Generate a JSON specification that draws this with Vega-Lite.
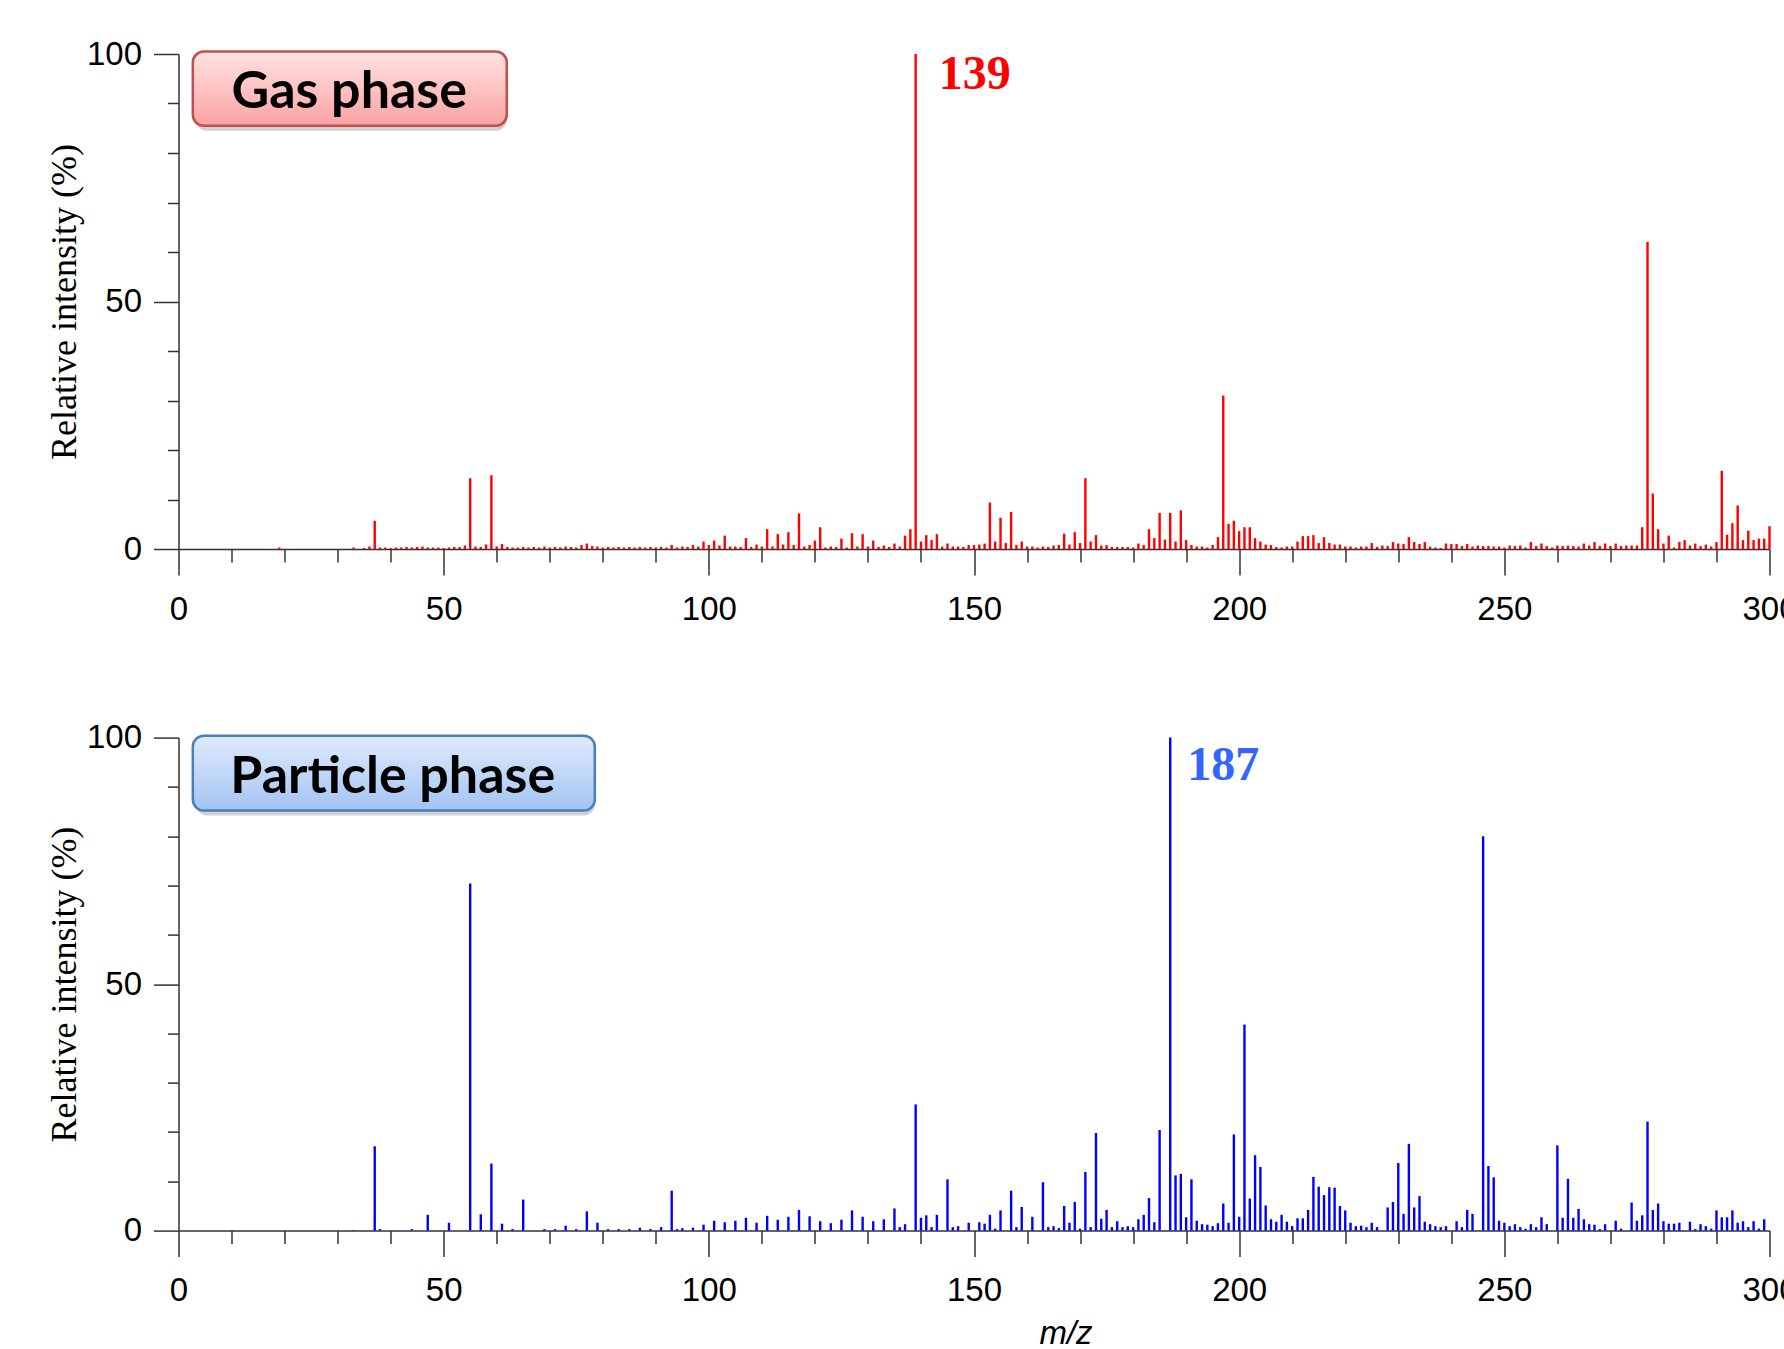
{
  "$schema": "https://vega.github.io/schema/vega-lite/v6.json",
  "background": "white",
  "padding": {"left": 45.5, "top": 38, "right": -10.5, "bottom": 0},
  "spacing": 188.6,
  "bounds": "flush",
  "config": {
    "view": {"stroke": null},
    "axis": {
      "grid": false,
      "domainColor": "#333333",
      "domainWidth": 1.5,
      "tickColor": "#333333",
      "tickWidth": 1.5,
      "labelFont": "Liberation Sans",
      "labelFontSize": 33,
      "labelColor": "#000000",
      "labelOverlap": false,
      "labelFlush": false,
      "titleFont": "Liberation Serif",
      "titleFontWeight": "normal",
      "titleFontSize": 36,
      "titleColor": "#000000"
    }
  },
  "datasets": {
    "gas": [
      {"mz":19,"i":0.3},{"mz":33,"i":0.3},{"mz":35,"i":0.2},{"mz":36,"i":0.5},{"mz":37,"i":5.7},{"mz":38,"i":0.3},{"mz":39,"i":0.3},{"mz":40,"i":0.2},
      {"mz":41,"i":0.3},{"mz":42,"i":0.3},{"mz":43,"i":0.4},{"mz":44,"i":0.3},{"mz":45,"i":0.4},{"mz":46,"i":0.5},{"mz":47,"i":0.3},{"mz":48,"i":0.3},
      {"mz":49,"i":0.3},{"mz":50,"i":0.2},{"mz":51,"i":0.3},{"mz":52,"i":0.4},{"mz":53,"i":0.4},{"mz":54,"i":0.7},{"mz":55,"i":14.3},{"mz":56,"i":0.5},
      {"mz":57,"i":0.4},{"mz":58,"i":0.9},{"mz":59,"i":14.9},{"mz":60,"i":0.5},{"mz":61,"i":1.0},{"mz":62,"i":0.4},{"mz":63,"i":0.3},{"mz":64,"i":0.3},
      {"mz":65,"i":0.4},{"mz":66,"i":0.3},{"mz":67,"i":0.4},{"mz":68,"i":0.3},{"mz":69,"i":0.5},{"mz":70,"i":0.3},{"mz":71,"i":0.4},{"mz":72,"i":0.3},
      {"mz":73,"i":0.5},{"mz":74,"i":0.4},{"mz":75,"i":0.3},{"mz":76,"i":0.8},{"mz":77,"i":1.1},{"mz":78,"i":0.6},{"mz":79,"i":0.5},{"mz":80,"i":0.3},
      {"mz":81,"i":0.4},{"mz":82,"i":0.3},{"mz":83,"i":0.4},{"mz":84,"i":0.3},{"mz":85,"i":0.4},{"mz":86,"i":0.3},{"mz":87,"i":0.4},{"mz":88,"i":0.3},
      {"mz":89,"i":0.4},{"mz":90,"i":0.3},{"mz":91,"i":0.4},{"mz":92,"i":0.3},{"mz":93,"i":0.8},{"mz":94,"i":0.3},{"mz":95,"i":0.5},{"mz":96,"i":0.4},
      {"mz":97,"i":0.8},{"mz":98,"i":0.5},{"mz":99,"i":1.5},{"mz":100,"i":0.8},{"mz":101,"i":1.7},{"mz":102,"i":0.7},{"mz":103,"i":2.7},{"mz":104,"i":0.5},
      {"mz":105,"i":0.5},{"mz":106,"i":0.4},{"mz":107,"i":2.2},{"mz":108,"i":0.4},{"mz":109,"i":0.9},{"mz":110,"i":0.5},{"mz":111,"i":4.0},{"mz":112,"i":0.5},
      {"mz":113,"i":3.0},{"mz":114,"i":0.9},{"mz":115,"i":3.4},{"mz":116,"i":0.8},{"mz":117,"i":7.2},{"mz":118,"i":0.5},{"mz":119,"i":0.8},{"mz":120,"i":1.7},
      {"mz":121,"i":4.4},{"mz":122,"i":0.3},{"mz":123,"i":0.5},{"mz":124,"i":0.4},{"mz":125,"i":2.1},{"mz":126,"i":0.3},{"mz":127,"i":3.2},{"mz":128,"i":0.5},
      {"mz":129,"i":3.0},{"mz":130,"i":0.5},{"mz":131,"i":1.7},{"mz":132,"i":0.4},{"mz":133,"i":0.7},{"mz":134,"i":0.4},{"mz":135,"i":1.1},{"mz":136,"i":0.5},
      {"mz":137,"i":2.7},{"mz":138,"i":4.0},{"mz":139,"i":100},{"mz":140,"i":1.5},{"mz":141,"i":2.8},{"mz":142,"i":1.8},{"mz":143,"i":3.0},{"mz":144,"i":0.5},
      {"mz":145,"i":1.1},{"mz":146,"i":0.5},{"mz":147,"i":0.5},{"mz":148,"i":0.4},{"mz":149,"i":0.8},{"mz":150,"i":0.8},{"mz":151,"i":0.9},{"mz":152,"i":1.1},
      {"mz":153,"i":9.4},{"mz":154,"i":1.5},{"mz":155,"i":6.3},{"mz":156,"i":1.2},{"mz":157,"i":7.5},{"mz":158,"i":0.8},{"mz":159,"i":1.5},{"mz":160,"i":0.5},
      {"mz":161,"i":0.5},{"mz":162,"i":0.3},{"mz":163,"i":0.5},{"mz":164,"i":0.4},{"mz":165,"i":0.7},{"mz":166,"i":0.8},{"mz":167,"i":3.1},{"mz":168,"i":0.9},
      {"mz":169,"i":3.4},{"mz":170,"i":1.2},{"mz":171,"i":14.3},{"mz":172,"i":1.5},{"mz":173,"i":2.8},{"mz":174,"i":0.7},{"mz":175,"i":0.8},{"mz":176,"i":0.4},
      {"mz":177,"i":0.4},{"mz":178,"i":0.4},{"mz":179,"i":0.4},{"mz":180,"i":0.3},{"mz":181,"i":1.1},{"mz":182,"i":0.8},{"mz":183,"i":4.0},{"mz":184,"i":2.2},
      {"mz":185,"i":7.3},{"mz":186,"i":1.9},{"mz":187,"i":7.3},{"mz":188,"i":1.5},{"mz":189,"i":7.8},{"mz":190,"i":1.8},{"mz":191,"i":0.8},{"mz":192,"i":0.5},
      {"mz":193,"i":0.5},{"mz":194,"i":0.3},{"mz":195,"i":0.8},{"mz":196,"i":2.4},{"mz":197,"i":31.0},{"mz":198,"i":5.1},{"mz":199,"i":5.7},{"mz":200,"i":3.6},
      {"mz":201,"i":4.4},{"mz":202,"i":4.4},{"mz":203,"i":2.2},{"mz":204,"i":1.5},{"mz":205,"i":0.9},{"mz":206,"i":0.8},{"mz":207,"i":0.4},{"mz":208,"i":0.3},
      {"mz":209,"i":0.5},{"mz":210,"i":0.5},{"mz":211,"i":1.5},{"mz":212,"i":2.6},{"mz":213,"i":2.6},{"mz":214,"i":2.8},{"mz":215,"i":1.2},{"mz":216,"i":2.4},
      {"mz":217,"i":1.2},{"mz":218,"i":0.9},{"mz":219,"i":0.9},{"mz":220,"i":0.5},{"mz":221,"i":0.5},{"mz":222,"i":0.3},{"mz":223,"i":0.5},{"mz":224,"i":0.5},
      {"mz":225,"i":1.2},{"mz":226,"i":0.4},{"mz":227,"i":0.7},{"mz":228,"i":0.6},{"mz":229,"i":1.4},{"mz":230,"i":1.1},{"mz":231,"i":1.0},{"mz":232,"i":2.4},
      {"mz":233,"i":1.4},{"mz":234,"i":1.0},{"mz":235,"i":1.4},{"mz":236,"i":0.5},{"mz":237,"i":0.3},{"mz":238,"i":0.2},{"mz":239,"i":1.1},{"mz":240,"i":1.0},
      {"mz":241,"i":1.0},{"mz":242,"i":0.6},{"mz":243,"i":1.0},{"mz":244,"i":0.5},{"mz":245,"i":0.7},{"mz":246,"i":0.6},{"mz":247,"i":0.6},{"mz":248,"i":0.5},
      {"mz":249,"i":0.5},{"mz":250,"i":0.3},{"mz":251,"i":0.7},{"mz":252,"i":0.6},{"mz":253,"i":0.7},{"mz":254,"i":0.3},{"mz":255,"i":1.4},{"mz":256,"i":0.6},
      {"mz":257,"i":1.1},{"mz":258,"i":0.6},{"mz":259,"i":0.3},{"mz":260,"i":0.7},{"mz":261,"i":0.6},{"mz":262,"i":0.7},{"mz":263,"i":0.6},{"mz":264,"i":0.5},
      {"mz":265,"i":1.1},{"mz":266,"i":0.7},{"mz":267,"i":1.4},{"mz":268,"i":0.6},{"mz":269,"i":1.1},{"mz":270,"i":0.6},{"mz":271,"i":1.1},{"mz":272,"i":0.6},
      {"mz":273,"i":0.7},{"mz":274,"i":0.7},{"mz":275,"i":0.7},{"mz":276,"i":4.4},{"mz":277,"i":62.0},{"mz":278,"i":11.2},{"mz":279,"i":4.0},{"mz":280,"i":1.1},
      {"mz":281,"i":2.7},{"mz":282,"i":0.3},{"mz":283,"i":1.4},{"mz":284,"i":1.8},{"mz":285,"i":0.7},{"mz":286,"i":1.1},{"mz":287,"i":0.6},{"mz":288,"i":0.9},
      {"mz":289,"i":0.5},{"mz":290,"i":1.4},{"mz":291,"i":15.8},{"mz":292,"i":2.9},{"mz":293,"i":5.2},{"mz":294,"i":8.8},{"mz":295,"i":1.8},{"mz":296,"i":3.7},
      {"mz":297,"i":1.8},{"mz":298,"i":2.1},{"mz":299,"i":2.1},{"mz":300,"i":4.6}
    ],
    "particle": [
      {"mz":33,"i":0.1},{"mz":37,"i":17.1},{"mz":38,"i":0.3},{"mz":44,"i":0.3},{"mz":47,"i":3.2},{"mz":51,"i":1.6},{"mz":55,"i":70.4},{"mz":57,"i":3.3},
      {"mz":59,"i":13.6},{"mz":61,"i":1.4},{"mz":63,"i":0.3},{"mz":65,"i":6.3},{"mz":69,"i":0.3},{"mz":71,"i":0.3},{"mz":73,"i":1.0},{"mz":75,"i":0.3},
      {"mz":77,"i":3.9},{"mz":79,"i":1.6},{"mz":81,"i":0.3},{"mz":83,"i":0.3},{"mz":85,"i":0.3},{"mz":87,"i":0.6},{"mz":89,"i":0.3},{"mz":91,"i":0.7},
      {"mz":93,"i":8.1},{"mz":94,"i":0.3},{"mz":95,"i":0.5},{"mz":97,"i":0.6},{"mz":99,"i":1.2},{"mz":101,"i":2.0},{"mz":103,"i":1.7},{"mz":105,"i":2.0},
      {"mz":107,"i":2.6},{"mz":109,"i":1.6},{"mz":111,"i":3.0},{"mz":113,"i":2.2},{"mz":115,"i":2.8},{"mz":117,"i":4.2},{"mz":119,"i":2.9},{"mz":121,"i":1.9},
      {"mz":123,"i":1.5},{"mz":125,"i":2.2},{"mz":127,"i":4.1},{"mz":129,"i":2.8},{"mz":131,"i":1.9},{"mz":133,"i":2.3},{"mz":135,"i":4.5},{"mz":136,"i":0.7},
      {"mz":137,"i":1.3},{"mz":139,"i":25.6},{"mz":140,"i":2.6},{"mz":141,"i":3.1},{"mz":142,"i":0.7},{"mz":143,"i":3.2},{"mz":145,"i":10.4},{"mz":146,"i":0.7},
      {"mz":147,"i":0.9},{"mz":149,"i":1.6},{"mz":151,"i":1.7},{"mz":152,"i":1.4},{"mz":153,"i":3.2},{"mz":154,"i":0.4},{"mz":155,"i":4.1},{"mz":157,"i":8.1},
      {"mz":158,"i":0.7},{"mz":159,"i":4.8},{"mz":161,"i":2.8},{"mz":163,"i":9.8},{"mz":164,"i":0.7},{"mz":165,"i":0.9},{"mz":166,"i":0.5},{"mz":167,"i":5.0},
      {"mz":168,"i":1.6},{"mz":169,"i":5.8},{"mz":170,"i":0.4},{"mz":171,"i":11.9},{"mz":172,"i":0.7},{"mz":173,"i":19.8},{"mz":174,"i":2.4},{"mz":175,"i":4.2},
      {"mz":176,"i":0.7},{"mz":177,"i":1.9},{"mz":178,"i":0.7},{"mz":179,"i":0.9},{"mz":180,"i":0.7},{"mz":181,"i":2.3},{"mz":182,"i":3.2},{"mz":183,"i":6.6},
      {"mz":184,"i":1.7},{"mz":185,"i":20.4},{"mz":187,"i":100},{"mz":188,"i":11.2},{"mz":189,"i":11.5},{"mz":190,"i":2.7},{"mz":191,"i":10.4},{"mz":192,"i":2.0},
      {"mz":193,"i":1.3},{"mz":194,"i":1.2},{"mz":195,"i":0.9},{"mz":196,"i":1.5},{"mz":197,"i":5.5},{"mz":198,"i":1.6},{"mz":199,"i":19.5},{"mz":200,"i":2.8},
      {"mz":201,"i":41.8},{"mz":202,"i":6.5},{"mz":203,"i":15.3},{"mz":204,"i":12.9},{"mz":205,"i":5.1},{"mz":206,"i":2.3},{"mz":207,"i":1.8},{"mz":208,"i":3.2},
      {"mz":209,"i":1.8},{"mz":210,"i":0.9},{"mz":211,"i":2.5},{"mz":212,"i":2.5},{"mz":213,"i":4.2},{"mz":214,"i":10.9},{"mz":215,"i":8.9},{"mz":216,"i":7.2},
      {"mz":217,"i":8.8},{"mz":218,"i":8.7},{"mz":219,"i":5.0},{"mz":220,"i":4.1},{"mz":221,"i":1.6},{"mz":222,"i":0.9},{"mz":223,"i":1.0},{"mz":224,"i":0.7},
      {"mz":225,"i":1.6},{"mz":226,"i":0.7},{"mz":228,"i":4.7},{"mz":229,"i":5.8},{"mz":230,"i":13.7},{"mz":231,"i":3.4},{"mz":232,"i":17.6},{"mz":233,"i":4.7},
      {"mz":234,"i":7.0},{"mz":235,"i":1.8},{"mz":236,"i":1.3},{"mz":237,"i":0.9},{"mz":238,"i":0.7},{"mz":239,"i":0.9},{"mz":241,"i":1.9},{"mz":242,"i":0.7},
      {"mz":243,"i":4.2},{"mz":244,"i":3.4},{"mz":246,"i":80.0},{"mz":247,"i":13.1},{"mz":248,"i":10.8},{"mz":249,"i":2.0},{"mz":250,"i":1.6},{"mz":251,"i":0.9},
      {"mz":252,"i":1.3},{"mz":253,"i":0.7},{"mz":254,"i":0.4},{"mz":255,"i":1.3},{"mz":256,"i":0.7},{"mz":257,"i":2.7},{"mz":258,"i":1.3},{"mz":260,"i":17.3},
      {"mz":261,"i":2.6},{"mz":262,"i":10.5},{"mz":263,"i":2.6},{"mz":264,"i":4.4},{"mz":265,"i":2.3},{"mz":266,"i":1.3},{"mz":267,"i":1.2},{"mz":268,"i":0.3},
      {"mz":269,"i":1.3},{"mz":271,"i":2.0},{"mz":272,"i":0.4},{"mz":274,"i":5.7},{"mz":275,"i":2.0},{"mz":276,"i":3.1},{"mz":277,"i":22.1},{"mz":278,"i":4.2},
      {"mz":279,"i":5.5},{"mz":280,"i":1.9},{"mz":281,"i":1.4},{"mz":282,"i":1.4},{"mz":283,"i":1.6},{"mz":285,"i":1.8},{"mz":286,"i":0.3},{"mz":287,"i":1.3},
      {"mz":288,"i":0.9},{"mz":289,"i":0.4},{"mz":290,"i":4.1},{"mz":291,"i":2.7},{"mz":292,"i":2.7},{"mz":293,"i":4.1},{"mz":294,"i":1.6},{"mz":295,"i":1.9},
      {"mz":296,"i":0.7},{"mz":297,"i":1.9},{"mz":298,"i":0.4},{"mz":299,"i":2.3}
    ],
    "gasBox": [{"label":"Gas phase","x1":2.7,"x2":61.9,"y1":85.5,"y2":100.5,"cx":32.2,"cy":89.0}],
    "partBox": [{"label":"Particle phase","x1":2.7,"x2":78.5,"y1":85.2,"y2":100.4,"cx":40.4,"cy":88.8}],
    "gasPeak": [{"mz":139,"i":100,"label":"139"}],
    "partPeak": [{"mz":187,"i":100,"label":"187"}]
  },
  "vconcat": [
    {
      "width": 1591,
      "height": 495,
      "layer": [
        {
          "data": {"name": "gas"},
          "mark": {"type": "rule", "color": "#ff0000", "strokeWidth": 2.4},
          "encoding": {
            "x": {"field": "mz", "type": "quantitative", "scale": {"domain": [0, 300], "nice": false, "zero": false},
              "axis": {"title": null, "values": [0,10,20,30,40,50,60,70,80,90,100,110,120,130,140,150,160,170,180,190,200,210,220,230,240,250,260,270,280,290,300],
                "labelExpr": "datum.value % 50 === 0 ? datum.label : ''",
                "tickSize": {"condition": {"test": "datum.value % 50 === 0", "value": 26}, "value": 13},
                "labelPadding": 18}},
            "y": {"field": "i", "type": "quantitative", "scale": {"domain": [0, 100], "nice": false},
              "axis": {"title": "Relative intensity (%)", "values": [0,10,20,30,40,50,60,70,80,90,100],
                "labelExpr": "datum.value % 50 === 0 ? datum.label : ''",
                "tickSize": {"condition": {"test": "datum.value % 50 === 0", "value": 25}, "value": 11},
                "labelPadding": 12, "titlePadding": 3}},
            "y2": {"datum": 0}
          }
        },
        {
          "data": {"name": "gasBox"},
          "mark": {"type": "rect", "color": "#7a7a7a", "opacity": 0.35, "cornerRadius": 11, "xOffset": 3, "yOffset": 5},
          "encoding": {"x": {"field": "x1", "type": "quantitative"}, "x2": {"field": "x2"}, "y": {"field": "y1", "type": "quantitative"}, "y2": {"field": "y2"}}
        },
        {
          "data": {"name": "gasBox"},
          "mark": {"type": "rect", "cornerRadius": 11, "stroke": "#c0504d", "strokeWidth": 2.5,
            "fill": {"gradient": "linear", "x1": 0, "y1": 0, "x2": 0, "y2": 1, "stops": [{"offset": 0, "color": "#ffe2e2"}, {"offset": 1, "color": "#fba3a3"}]}},
          "encoding": {"x": {"field": "x1", "type": "quantitative"}, "x2": {"field": "x2"}, "y": {"field": "y1", "type": "quantitative"}, "y2": {"field": "y2"}}
        },
        {
          "data": {"name": "gasBox"},
          "mark": {"type": "text", "font": "Lato", "fontWeight": "bold", "fontSize": 52, "color": "#000000", "align": "center", "baseline": "alphabetic"},
          "encoding": {"x": {"field": "cx", "type": "quantitative"}, "y": {"field": "cy", "type": "quantitative"}, "text": {"field": "label"}}
        },
        {
          "data": {"name": "gasPeak"},
          "mark": {"type": "text", "font": "Liberation Serif", "fontWeight": "bold", "fontSize": 48, "color": "#ff0000", "align": "left", "baseline": "alphabetic", "dx": 23, "dy": 35},
          "encoding": {"x": {"field": "mz", "type": "quantitative"}, "y": {"field": "i", "type": "quantitative"}, "text": {"field": "label"}}
        }
      ]
    },
    {
      "width": 1591,
      "height": 493,
      "layer": [
        {
          "data": {"name": "particle"},
          "mark": {"type": "rule", "color": "#0000ff", "strokeWidth": 2.4},
          "encoding": {
            "x": {"field": "mz", "type": "quantitative", "scale": {"domain": [0, 300], "nice": false, "zero": false},
              "axis": {"title": "m/z", "titleFont": "Liberation Sans", "titleFontStyle": "italic", "titleFontSize": 33, "titlePadding": 10, "titleX": 887,
                "values": [0,10,20,30,40,50,60,70,80,90,100,110,120,130,140,150,160,170,180,190,200,210,220,230,240,250,260,270,280,290,300],
                "labelExpr": "datum.value % 50 === 0 ? datum.label : ''",
                "tickSize": {"condition": {"test": "datum.value % 50 === 0", "value": 26}, "value": 13},
                "labelPadding": 18}},
            "y": {"field": "i", "type": "quantitative", "scale": {"domain": [0, 100], "nice": false},
              "axis": {"title": "Relative intensity (%)", "values": [0,10,20,30,40,50,60,70,80,90,100],
                "labelExpr": "datum.value % 50 === 0 ? datum.label : ''",
                "tickSize": {"condition": {"test": "datum.value % 50 === 0", "value": 25}, "value": 11},
                "labelPadding": 12, "titlePadding": 3}},
            "y2": {"datum": 0}
          }
        },
        {
          "data": {"name": "partBox"},
          "mark": {"type": "rect", "color": "#7a7a7a", "opacity": 0.35, "cornerRadius": 11, "xOffset": 3, "yOffset": 5},
          "encoding": {"x": {"field": "x1", "type": "quantitative"}, "x2": {"field": "x2"}, "y": {"field": "y1", "type": "quantitative"}, "y2": {"field": "y2"}}
        },
        {
          "data": {"name": "partBox"},
          "mark": {"type": "rect", "cornerRadius": 11, "stroke": "#4a7ebb", "strokeWidth": 2.5,
            "fill": {"gradient": "linear", "x1": 0, "y1": 0, "x2": 0, "y2": 1, "stops": [{"offset": 0, "color": "#dfeafc"}, {"offset": 1, "color": "#a3c4f3"}]}},
          "encoding": {"x": {"field": "x1", "type": "quantitative"}, "x2": {"field": "x2"}, "y": {"field": "y1", "type": "quantitative"}, "y2": {"field": "y2"}}
        },
        {
          "data": {"name": "partBox"},
          "mark": {"type": "text", "font": "Lato", "fontWeight": "bold", "fontSize": 52, "color": "#000000", "align": "center", "baseline": "alphabetic"},
          "encoding": {"x": {"field": "cx", "type": "quantitative"}, "y": {"field": "cy", "type": "quantitative"}, "text": {"field": "label"}}
        },
        {
          "data": {"name": "partPeak"},
          "mark": {"type": "text", "font": "Liberation Serif", "fontWeight": "bold", "fontSize": 48, "color": "#3366ff", "align": "left", "baseline": "alphabetic", "dx": 17, "dy": 42},
          "encoding": {"x": {"field": "mz", "type": "quantitative"}, "y": {"field": "i", "type": "quantitative"}, "text": {"field": "label"}}
        }
      ]
    }
  ]
}
